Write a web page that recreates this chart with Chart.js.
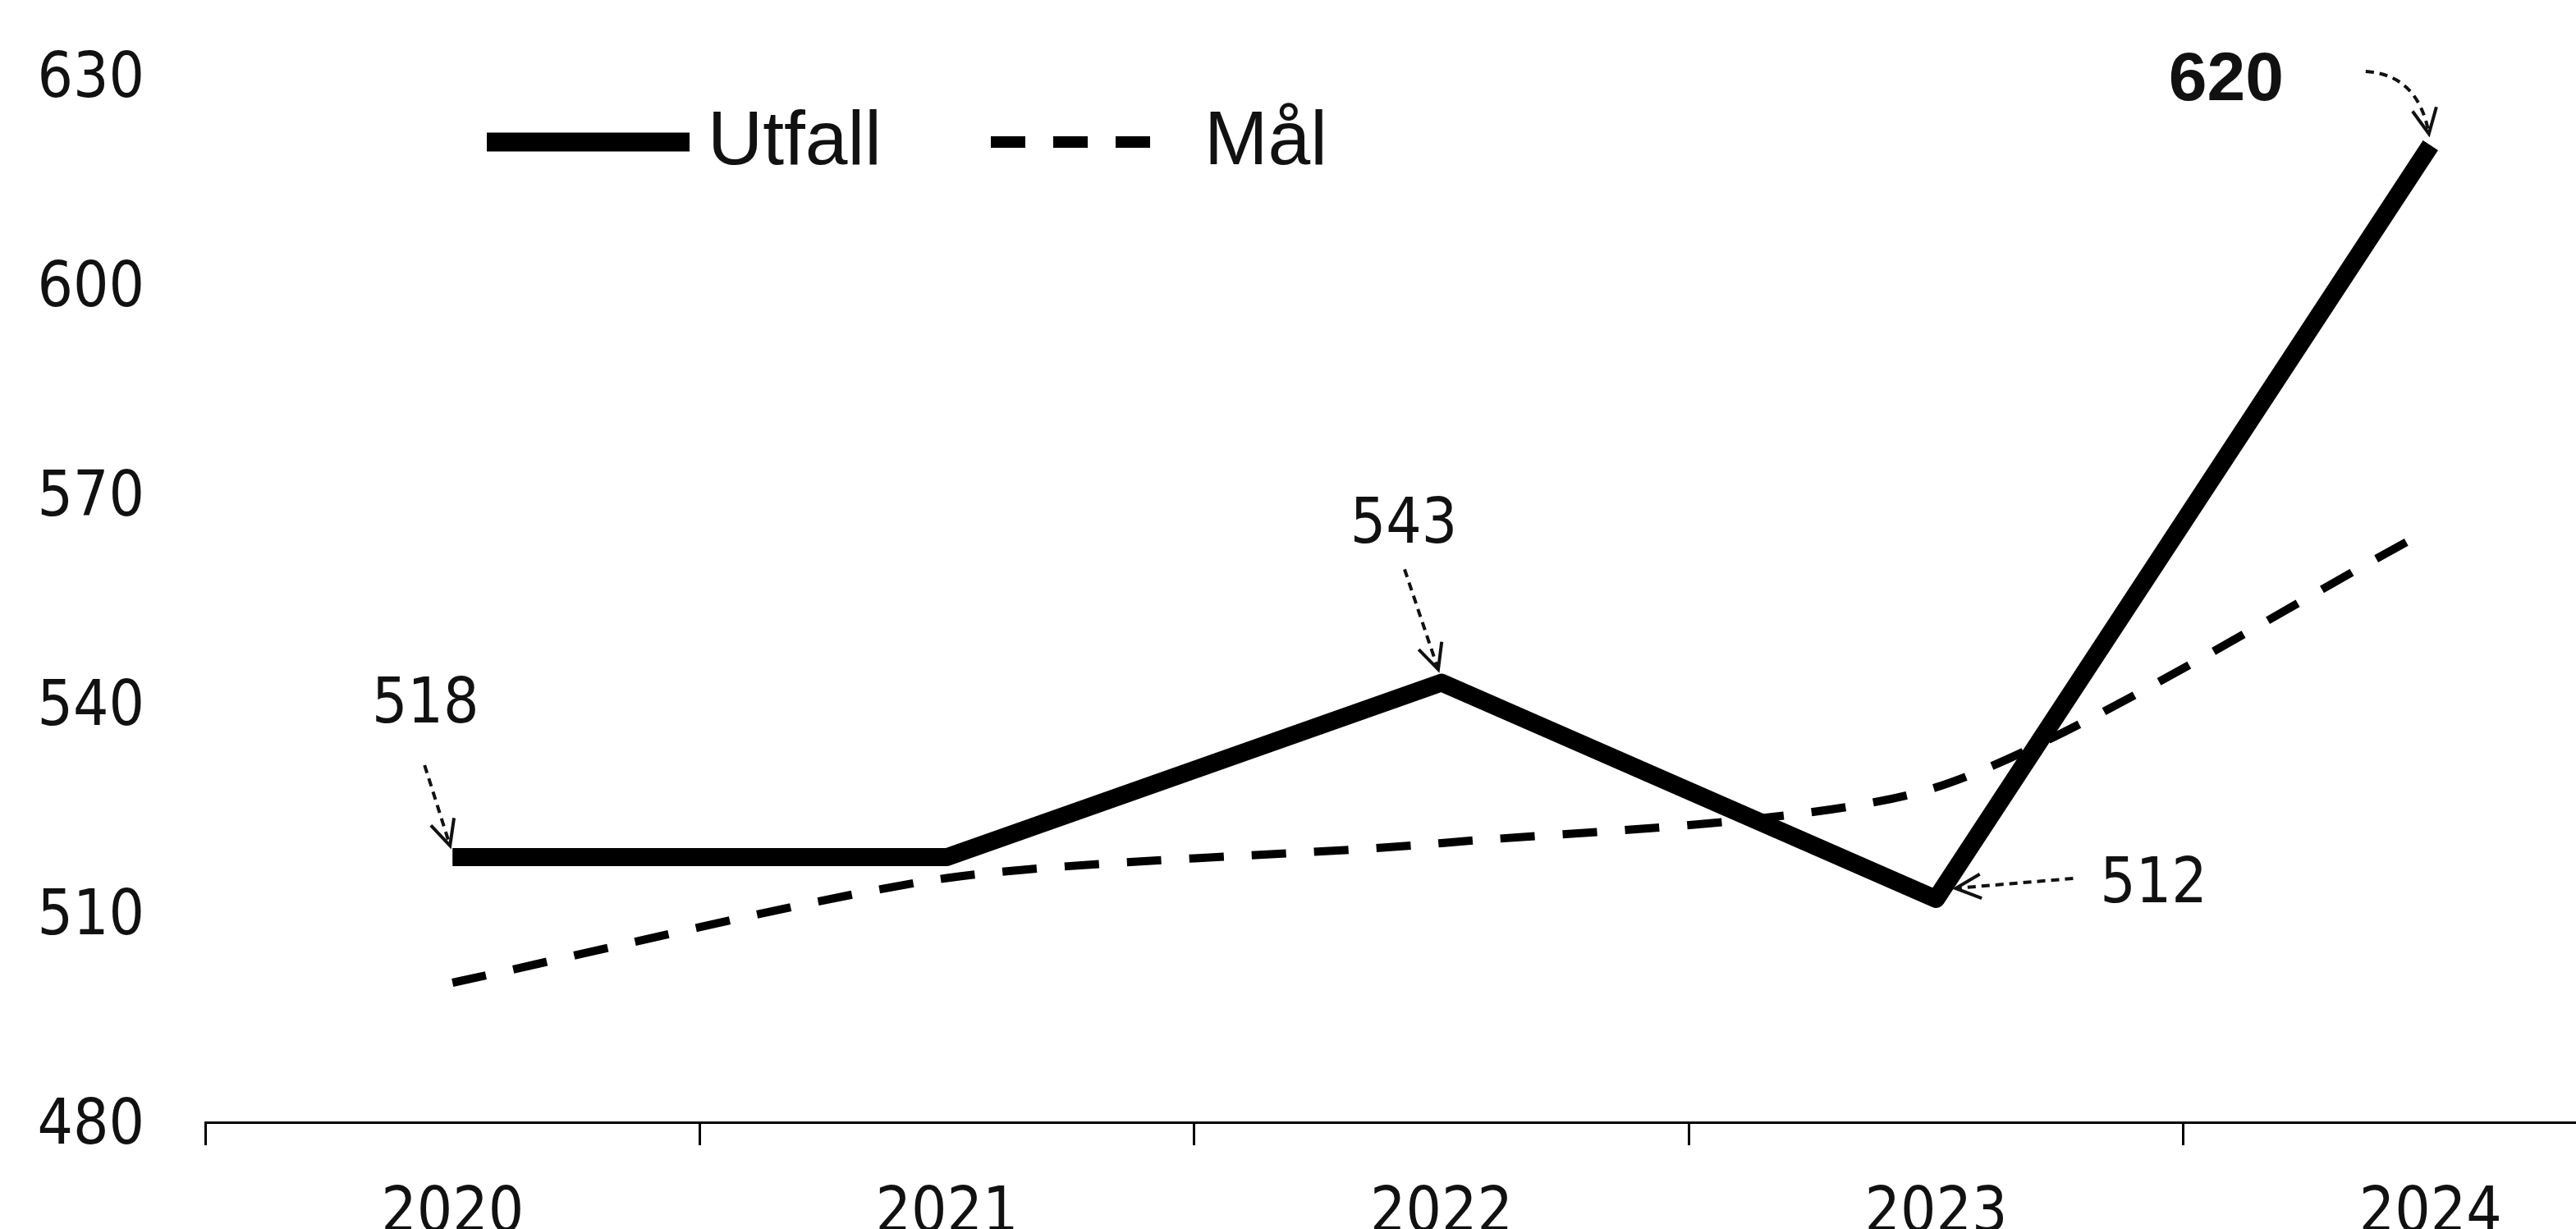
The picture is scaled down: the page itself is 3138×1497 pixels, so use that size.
<!DOCTYPE html>
<html>
<head>
<meta charset="utf-8">
<script src="https://cdn.jsdelivr.net/npm/chart.js@4/dist/chart.umd.min.js"></script>
<style>
  html, body { margin: 0; padding: 0; background: #fff; overflow: hidden; }
  #wrap { position: absolute; left: 0; top: 0; width: 3262px; height: 1497px; }
</style>
</head>
<body>
<div id="wrap"><canvas id="c"></canvas></div>
<script>
const years  = ['2020', '2021', '2022', '2023', '2024'];
const utfall = [518, 518, 543, 512, 620];
const maal   = [500, 515, 520, 528, 565];
const Y_MIN = 480, Y_MAX = 630, Y_STEP = 30;

const NARROW = '"Liberation Sans Narrow", "DejaVu Sans Condensed", sans-serif';
const SANS   = '"Liberation Sans", Arial, sans-serif';

// callouts: which Utfall points get a value label + dashed arrow (offsets in px from the point)
const callouts = [
  { i: 0, lx: -33,  ly: -184, from: [-34, -112], to: [-3, -14] },
  { i: 2, lx: -46,  ly: -190, from: [-45, -138], to: [-4, -16] },
  { i: 3, lx: 265,  ly: -16,  from: [167, -25],  to: [24, -13] },
  { i: 4, lx: -249, ly: -78,  from: [-79, -90],  to: [-2, -14], bold: true, curve: [-15, -86] }
];

function arrowHead(ctx, x, y, ang) {
  const len = 34, spread = 0.45;
  ctx.setLineDash([]);
  ctx.beginPath();
  ctx.moveTo(x - len * Math.cos(ang - spread), y - len * Math.sin(ang - spread));
  ctx.lineTo(x, y);
  ctx.lineTo(x - len * Math.cos(ang + spread), y - len * Math.sin(ang + spread));
  ctx.stroke();
}

const calloutPlugin = {
  id: 'callouts',
  afterDatasetsDraw(chart) {
    const { ctx } = chart;
    const pts = chart.getDatasetMeta(0).data;
    ctx.save();
    ctx.strokeStyle = '#111';
    ctx.fillStyle = '#111';
    ctx.lineWidth = 4;
    callouts.forEach(c => {
      const p = pts[c.i];
      const x1 = p.x + c.from[0], y1 = p.y + c.from[1];
      const x2 = p.x + c.to[0],   y2 = p.y + c.to[1];
      ctx.setLineDash([10, 7]);
      ctx.beginPath();
      ctx.moveTo(x1, y1);
      let ang;
      if (c.curve) {
        const cx = p.x + c.curve[0], cy = p.y + c.curve[1];
        ctx.quadraticCurveTo(cx, cy, x2, y2);
        ang = Math.atan2(y2 - cy, x2 - cx);
      } else {
        ctx.lineTo(x2, y2);
        ang = Math.atan2(y2 - y1, x2 - x1);
      }
      ctx.stroke();
      arrowHead(ctx, x2, y2, ang);

      ctx.font = c.bold ? `bold 84px ${SANS}` : `76px ${NARROW}`;
      ctx.textAlign = 'center';
      ctx.textBaseline = 'middle';
      ctx.fillText(String(utfall[c.i]), p.x + c.lx, p.y + c.ly);
    });
    ctx.restore();
  }
};

const legendPlugin = {
  id: 'lineLegend',
  afterDraw(chart) {
    const { ctx } = chart;
    const items = [
      { ds: 0, x0: 593,  x1: 840,  tx: 862 },
      { ds: 1, x0: 1207, x1: 1412, tx: 1467 }
    ];
    ctx.save();
    items.forEach(it => {
      const d = chart.data.datasets[it.ds];
      ctx.strokeStyle = d.borderColor;
      ctx.lineWidth = it.ds === 0 ? 23 : 14;
      ctx.setLineDash(d.borderDash || []);
      ctx.beginPath();
      ctx.moveTo(it.x0, 173);
      ctx.lineTo(it.x1, 173);
      ctx.stroke();
      ctx.setLineDash([]);
      ctx.fillStyle = '#111';
      ctx.font = `93px ${SANS}`;
      ctx.textAlign = 'left';
      ctx.textBaseline = 'alphabetic';
      ctx.fillText(d.label, it.tx, 200);
    });
    ctx.restore();
  }
};

new Chart(document.getElementById('c'), {
  type: 'line',
  data: {
    labels: years,
    datasets: [
      {
        label: 'Utfall',
        data: utfall,
        borderColor: '#000',
        borderWidth: 22,
        borderJoinStyle: 'round',
        pointRadius: 0,
        tension: 0
      },
      {
        label: 'Mål',
        data: maal,
        borderColor: '#000',
        borderWidth: 10,
        borderDash: [42, 34],
        pointRadius: 0,
        tension: 0.25
      }
    ]
  },
  options: {
    responsive: true,
    maintainAspectRatio: false,
    animation: false,
    layout: { padding: { top: 92, left: 0, right: 0, bottom: 0 } },
    plugins: { legend: { display: false }, tooltip: { enabled: false } },
    scales: {
      x: {
        offset: true,
        grid: { display: true, offset: true, drawOnChartArea: false, drawTicks: true, tickLength: 28, color: '#000', lineWidth: 3 },
        border: { display: true, color: '#000', width: 3 },
        ticks: { color: '#111', font: { family: NARROW, size: 76 }, padding: 40, maxRotation: 0 },
        afterFit(scale) { scale.height = 130; }
      },
      y: {
        min: Y_MIN,
        max: Y_MAX,
        grid: { display: false },
        border: { display: false },
        ticks: { stepSize: Y_STEP, color: '#111', font: { family: NARROW, size: 76 }, padding: 66, labelOffset: 6 },
        afterFit(scale) {
          scale.width = 250;
          scale.paddingTop = 0;
          scale.paddingBottom = 0;
        }
      }
    }
  },
  plugins: [calloutPlugin, legendPlugin]
});
</script>
</body>
</html>
